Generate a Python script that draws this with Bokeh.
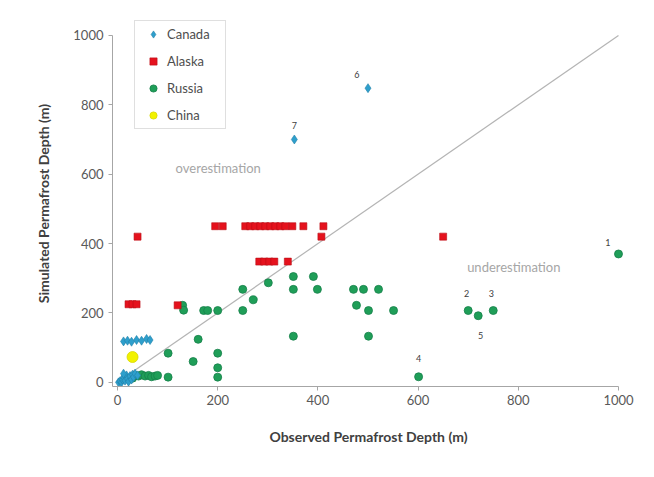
from bokeh.plotting import figure
from bokeh.models import Range1d, Legend, LegendItem, Label, FixedTicker
from bokeh.embed import file_html
from bokeh.resources import INLINE

# ---- data ----
canada_x = [500, 353, 12, 20, 28, 38, 48, 58, 65,
            2, 5, 8, 10, 12, 15, 18, 20, 22, 25, 28, 30, 32, 35, 40, 12]
canada_y = [848, 700, 118, 120, 117, 122, 120, 125, 122,
            0, 3, 0, 8, 15, 5, 20, 10, 2, 18, 8, 22, 15, 25, 20, 25]

alaska_x = [40, 650, 407, 22, 30, 38, 120,
            195, 210, 255, 265, 275, 285, 295, 305, 315, 325, 335, 349, 371, 411,
            283, 293, 303, 313, 340]
alaska_y = [420, 420, 420, 225, 225, 225, 222,
            450, 450, 450, 450, 450, 450, 450, 450, 450, 450, 450, 450, 450, 450,
            348, 348, 348, 348, 348]

russia_x = [1000, 700, 720, 750, 601, 501, 351,
            351, 391, 351, 399, 471, 491, 521, 477, 501, 551,
            301, 271, 250, 250, 200, 172, 180, 130, 132,
            161, 151, 200, 200, 200, 101, 101,
            30, 35, 42, 48, 55, 62, 68, 75, 80]
russia_y = [370, 207, 192, 207, 16, 133, 133,
            305, 305, 268, 268, 268, 268, 268, 222, 207, 207,
            287, 238, 268, 207, 207, 207, 207, 222, 208,
            124, 60, 84, 42, 15, 84, 15,
            12, 20, 18, 22, 18, 20, 16, 18, 20]

china_x = [30]
china_y = [73]

diag_x = [0, 1000]
diag_y = [0, 1000]

note_text = ["1", "2", "3", "4", "5", "6", "7"]
note_x = [979, 697, 746, 601, 725, 478, 353]
note_y = [402, 256, 256, 69, 135, 886, 740]

ticks = [0, 200, 400, 600, 800, 1000]

FONT = "Lato"

p = figure(width=646, height=469, output_backend="svg", toolbar_location=None,
           x_range=Range1d(-10, 1012), y_range=Range1d(-12, 1043),
           min_border_left=112, min_border_right=22,
           min_border_top=20, min_border_bottom=83)
p.grid.visible = False
p.outline_line_color = None
p.background_fill_color = "white"
p.border_fill_color = "white"

for ax in (p.xaxis[0], p.yaxis[0]):
    ax.ticker = FixedTicker(ticks=ticks)
    ax.axis_line_color = "#a6a6a6"
    ax.major_tick_line_color = "#a6a6a6"
    ax.major_tick_out = 4
    ax.major_tick_in = 0
    ax.minor_tick_line_color = None
    ax.major_label_text_font = FONT
    ax.major_label_text_font_size = "13px"
    ax.major_label_text_color = "#595959"
    ax.axis_label_text_font = FONT
    ax.axis_label_text_font_size = "14px"
    ax.axis_label_text_font_style = "bold"
    ax.axis_label_text_color = "#404040"

p.xaxis.bounds = (-10, 1000)
p.yaxis.bounds = (-12, 1000)
p.xaxis.axis_label = "Observed Permafrost Depth (m)"
p.yaxis.axis_label = "Simulated Permafrost Depth (m)"
p.xaxis.major_label_standoff = 4
p.yaxis.major_label_standoff = 5
p.xaxis.axis_label_standoff = 20
p.yaxis.axis_label_standoff = 18

p.line(diag_x, diag_y, line_color="#b4b4b4", line_width=1.2)

r_russia = p.scatter(russia_x, russia_y, marker="circle", size=8,
                     fill_color="#1f9e58", line_color="#16804a", line_width=0.8)
r_alaska = p.scatter(alaska_x, alaska_y, marker="square", size=7,
                     fill_color="#e5121d", line_color="#b80d16", line_width=0.6)
r_canada = p.scatter(canada_x, canada_y, marker="diamond", size=9,
                     fill_color="#2e9fcc", line_color="#1f7fa8", line_width=0.6)
r_china = p.scatter(china_x, china_y, marker="circle", size=11,
                    fill_color="#f2f200", line_color="#d8d800", line_width=0.8)

legend = Legend(items=[
    LegendItem(label="Canada", renderers=[r_canada]),
    LegendItem(label="Alaska", renderers=[r_alaska]),
    LegendItem(label="Russia", renderers=[r_russia]),
    LegendItem(label="China", renderers=[r_china]),
], location=(22, 257))
legend.margin = 0
legend.padding = 4
legend.spacing = 9
legend.label_height = 18
legend.glyph_height = 18
legend.glyph_width = 28
legend.label_standoff = 0
legend.label_width = 54
legend.label_text_font = FONT
legend.label_text_font_size = "13px"
legend.label_text_color = "#4d4d4d"
legend.border_line_color = "#bfbfbf"
legend.border_line_width = 1
legend.background_fill_color = "white"
legend.background_fill_alpha = 1
p.add_layout(legend, "center")

for t, x, y in zip(note_text, note_x, note_y):
    p.add_layout(Label(x=x, y=y, text=t, text_font=FONT, text_font_size="9px",
                       text_color="#404040", text_align="center",
                       text_baseline="middle"))

p.add_layout(Label(x=201, y=617, text="overestimation", text_font=FONT,
                   text_font_size="13px", text_color="#a6a6a6",
                   text_align="center", text_baseline="middle"))
p.add_layout(Label(x=791, y=332, text="underestimation", text_font=FONT,
                   text_font_size="13px", text_color="#a6a6a6",
                   text_align="center", text_baseline="middle"))

open("out.html", "w").write(file_html(p, INLINE))
